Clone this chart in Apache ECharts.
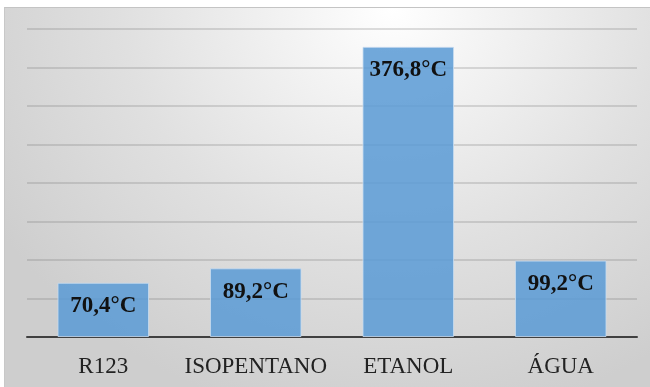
<!DOCTYPE html>
<html>
<head>
<meta charset="utf-8">
<script src="https://cdn.jsdelivr.net/npm/echarts@6/dist/echarts.min.js"></script>
<style>
  html, body { margin: 0; padding: 0; background: #ffffff; }
  #frame {
    position: absolute; left: 4px; top: 7px; width: 646px; height: 380px;
    background: radial-gradient(ellipse 72% 110% at 60% 0%, #ffffff 0%, #f3f3f3 22%, #e0e0e0 58%, #cecece 100%);
    border-top: 1px solid #c4c4c4; border-left: 1px solid #c8c8c8;
    box-sizing: border-box;
  }
  #chart { position: absolute; left: 0; top: 0; width: 650px; height: 387px; }
</style>
</head>
<body>
<div id="frame"></div>
<div id="chart"></div>
<script>
// Fluids and their temperatures (°C)
const categories = ['R123', 'ISOPENTANO', 'ETANOL', 'ÁGUA'];
const temperatures = [70.4, 89.2, 376.8, 99.2];

const fmt = v => v.toFixed(1).replace('.', ',') + '°C';

const chart = echarts.init(document.getElementById('chart'), null, { renderer: 'canvas' });
chart.setOption({
  backgroundColor: 'transparent',
  animation: false,
  grid: { left: 27, right: 13, top: 29, bottom: 50 },
  xAxis: {
    type: 'category',
    data: categories,
    axisLine: { show: true, lineStyle: { color: '#404040', width: 2 } },
    axisTick: { show: false },
    axisLabel: {
      interval: 0,
      margin: 18,
      fontFamily: '"Liberation Serif", "Times New Roman", serif',
      fontSize: 23,
      color: '#222222'
    }
  },
  yAxis: {
    type: 'value',
    min: 0, max: 400, interval: 50,
    axisLabel: { show: false },
    axisLine: { show: false },
    axisTick: { show: false },
    splitLine: { lineStyle: { color: 'rgba(110,110,110,0.30)', width: 1.5 } }
  },
  series: [{
    type: 'bar',
    data: temperatures,
    barWidth: '60%',
    itemStyle: {
      color: 'rgba(91,155,213,0.86)',
      borderColor: 'rgba(200,220,240,0.8)',
      borderWidth: 1
    },
    label: {
      show: true,
      position: 'insideTop',
      distance: 12,
      formatter: p => fmt(p.value),
      fontFamily: '"Liberation Serif", "Times New Roman", serif',
      fontWeight: 'bold',
      fontSize: 23,
      color: '#111111'
    }
  }]
});
</script>
</body>
</html>
